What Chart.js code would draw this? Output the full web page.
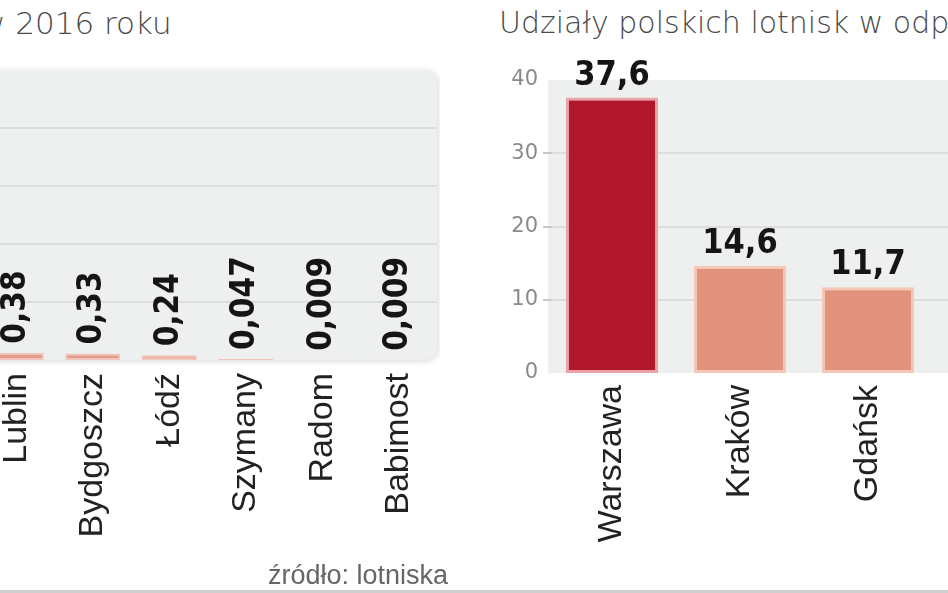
<!DOCTYPE html>
<html lang="pl">
<head>
<meta charset="utf-8">
<title>Lotniska 2016</title>
<script src="https://cdn.jsdelivr.net/npm/chart.js@4.4.1/dist/chart.umd.min.js"></script>
<style>
  html, body { margin: 0; padding: 0; background: #fff; }
  body { width: 948px; height: 593px; overflow: hidden; position: relative; }
  canvas { position: absolute; top: 0; }
  #leftChart { left: -40px; }
  #rightChart { left: 470px; }
  .title { position: absolute; top: 8px; font-family: "DejaVu Sans", sans-serif; font-weight: 300;
           color: #4a4a4a; line-height: 1; white-space: nowrap; }
  #titleLeft { left: -20px; font-size: 31px; }
  #titleRight { left: 499px; font-size: 30px; }
  #source { position: absolute; left: 268px; top: 562px; font-family: "Liberation Sans", Arial, sans-serif;
            font-size: 27px; line-height: 1; color: #666; white-space: nowrap; }
  #bottomLine { position: absolute; left: 0; top: 590px; width: 948px; height: 3px; background: #cfcfcf; }
</style>
</head>
<body>
<div class="title" id="titleLeft">w 2016 roku</div>
<div class="title" id="titleRight">Udziały polskich lotnisk w odp</div>
<canvas id="leftChart" width="480" height="593"></canvas>
<canvas id="rightChart" width="478" height="593"></canvas>
<div id="source">źródło: lotniska</div>
<div id="bottomLine"></div>

<script>
// left panel: passengers 2016 (mln), only the visible tail of the chart
const leftLabels = ["Lublin", "Bydgoszcz", "Łódź", "Szymany", "Radom", "Babimost"];
const leftValues = [0.38, 0.33, 0.24, 0.047, 0.009, 0.009];
const leftTicks = [0, 3, 6, 9, 12, 15];

// right panel: share of passengers (%)
const rightLabels = ["Warszawa", "Kraków", "Gdańsk"];
const rightValues = [37.6, 14.6, 11.7];
const rightTicks = [0, 10, 20, 30, 40];

const el = (id) => document.getElementById(id);
const fmt = (v) => String(v).replace(".", ",");

const LABEL_FONT = "'Liberation Sans', Arial, sans-serif";
const VALUE_FONT = "'DejaVu Sans Condensed', 'Liberation Sans Narrow', 'DejaVu Sans', sans-serif";

// grey plot panel + gridlines, drawn from the y scale
const panelBg = {
  id: "panelBg",
  beforeDraw(chart, args, opts) {
    const { ctx, chartArea: a } = chart;
    const y = chart.scales.y;
    const right = opts.toEdge ? chart.width : a.right;
    ctx.save();
    if (opts.shadow) {
      ctx.shadowColor = "rgba(0,0,0,0.16)";
      ctx.shadowBlur = 6;
      ctx.shadowOffsetX = 1;
      ctx.shadowOffsetY = 1;
    }
    ctx.fillStyle = opts.color;
    ctx.beginPath();
    ctx.roundRect(a.left, a.top, right - a.left, a.bottom - a.top, opts.radius || 0);
    ctx.fill();
    ctx.restore();

    ctx.save();
    ctx.strokeStyle = opts.gridColor;
    ctx.lineWidth = 2;
    opts.grid.forEach(v => {
      const py = Math.round(y.getPixelForValue(v));
      ctx.beginPath();
      ctx.moveTo(a.left, py);
      ctx.lineTo(right, py);
      ctx.stroke();
    });
    if (opts.tickMarks) {
      ctx.strokeStyle = "#c9c9c9";
      opts.tickMarks.forEach(v => {
        const py = Math.round(y.getPixelForValue(v));
        ctx.beginPath();
        ctx.moveTo(a.left - 5, py);
        ctx.lineTo(a.left + 4, py);
        ctx.stroke();
      });
    }
    ctx.restore();
  }
};

const valueLabels = {
  id: "valueLabels",
  afterDatasetsDraw(chart, args, opts) {
    const { ctx } = chart;
    const meta = chart.getDatasetMeta(0);
    const data = chart.data.datasets[0].data;
    ctx.save();
    ctx.font = opts.font;
    ctx.fillStyle = "#151515";
    meta.data.forEach((bar, i) => {
      const txt = fmt(data[i]);
      if (opts.vertical) {
        ctx.save();
        ctx.translate(bar.x, bar.y - opts.gap);
        ctx.rotate(-Math.PI / 2);
        ctx.textAlign = "left";
        ctx.textBaseline = "middle";
        ctx.fillText(txt, 0, 0);
        ctx.restore();
      } else {
        ctx.textAlign = "center";
        ctx.textBaseline = "alphabetic";
        ctx.fillText(txt, bar.x, bar.y - opts.gap);
      }
    });
    ctx.restore();
  }
};

const xAxis = (height, padding) => ({
  grid: { display: false, drawTicks: false },
  border: { display: false },
  ticks: {
    autoSkip: false, minRotation: 90, maxRotation: 90, padding,
    color: "#222", font: { family: LABEL_FONT, size: 34 }
  },
  afterFit: s => { s.height = height; s.paddingLeft = 0; s.paddingRight = 0; }
});

new Chart(el("leftChart"), {
  type: "bar",
  data: {
    labels: leftLabels,
    datasets: [{
      data: leftValues,
      backgroundColor: "#e39a86",
      borderColor: "#f0c6ba",
      borderWidth: 2,
      borderSkipped: false,
      barPercentage: 0.72,
      categoryPercentage: 1
    }]
  },
  options: {
    responsive: false, animation: false, devicePixelRatio: 1,
    layout: { padding: { left: 18, right: 3, top: 70, bottom: 0 }, autoPadding: false },
    plugins: {
      legend: { display: false }, tooltip: { enabled: false },
      panelBg: { color: "#eeefef", gridColor: "#dcdddd", grid: leftTicks.slice(1, -1), radius: 12, shadow: true },
      valueLabels: { vertical: true, gap: 9, font: "bold 33px " + VALUE_FONT }
    },
    scales: {
      x: xAxis(233, 13),
      y: { display: false, min: leftTicks[0], max: leftTicks[leftTicks.length - 1] }
    }
  },
  plugins: [panelBg, valueLabels]
});

new Chart(el("rightChart"), {
  type: "bar",
  data: {
    labels: rightLabels,
    datasets: [{
      data: rightValues,
      backgroundColor: ["#b1172c", "#e2927c", "#e2927c"],
      borderColor: ["#eaa3a6", "#f5c7b7", "#f5c7b7"],
      borderWidth: 3,
      borderSkipped: false,
      barPercentage: 0.72,
      categoryPercentage: 1
    }]
  },
  options: {
    responsive: false, animation: false, devicePixelRatio: 1,
    layout: { padding: { left: 0, right: 16, top: 80, bottom: 0 }, autoPadding: false },
    plugins: {
      legend: { display: false }, tooltip: { enabled: false },
      panelBg: { color: "#eeefef", gridColor: "#dcdddd", grid: rightTicks.slice(1, -1),
                 tickMarks: rightTicks.slice(1, -1), toEdge: true },
      valueLabels: { vertical: false, gap: 13, font: "bold 34px " + VALUE_FONT }
    },
    scales: {
      x: xAxis(220, 12),
      y: {
        min: rightTicks[0], max: rightTicks[rightTicks.length - 1],
        grid: { display: false, drawTicks: false },
        border: { display: false },
        ticks: { stepSize: rightTicks[1] - rightTicks[0], padding: 10, color: "#8a8a8a",
                 font: { family: "'DejaVu Sans', sans-serif", size: 21 } },
        afterFit: s => { s.width = 78; s.paddingTop = 0; s.paddingBottom = 0; }
      }
    }
  },
  plugins: [panelBg, valueLabels]
});
</script>
</body>
</html>
